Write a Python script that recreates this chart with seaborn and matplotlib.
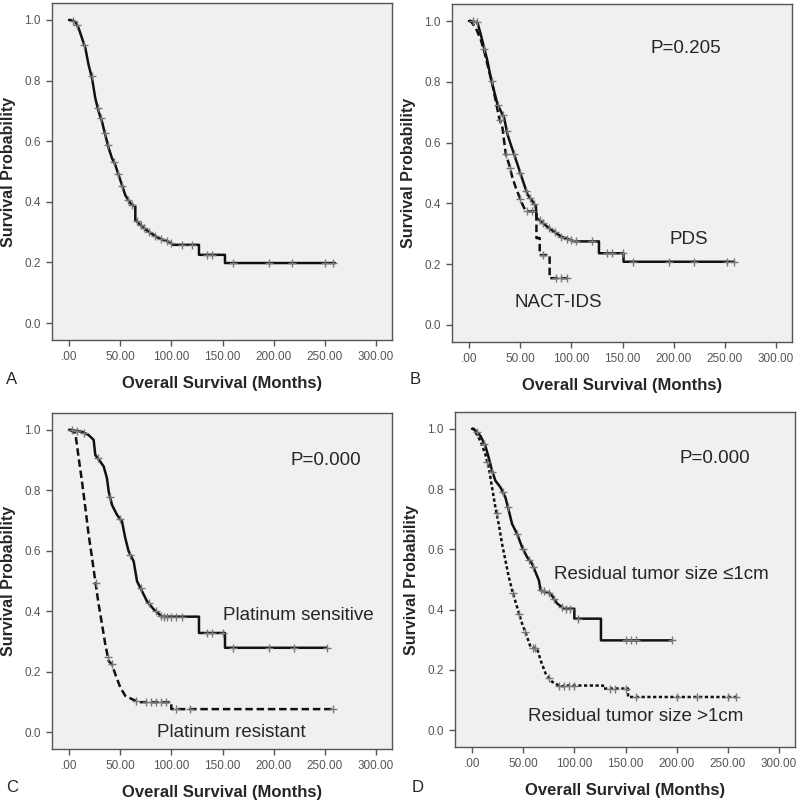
import seaborn as sns
import matplotlib.pyplot as plt
import numpy as np

# Kaplan-Meier curves (months, survival).
# A repeated month marks a vertical drop of the step curve.

# A: all patients
t_all = [0, 1.3, 6.2, 9.5, 12.7, 16, 19.2, 22.5, 25.7, 29, 32.3, 35.5, 38.8, 42, 45.3, 48.5, 51.8,
         55, 60, 64.8, 64.8, 71.4, 77.9, 87.7, 97.5, 102, 127, 127, 152.4, 152.4, 260]
s_all = [1.0, 1.0, 0.994, 0.972, 0.94, 0.907, 0.851, 0.808, 0.742, 0.697, 0.664, 0.62, 0.577,
         0.544, 0.521, 0.488, 0.455, 0.422, 0.395, 0.384, 0.34, 0.318, 0.301, 0.28, 0.268, 0.258,
         0.258, 0.225, 0.225, 0.198, 0.198]
c_all = [4, 8, 15, 22, 28, 31, 35, 38, 44, 48, 52, 58, 62, 66, 70, 73, 78, 84, 90, 96, 100, 110,
         120, 135, 140, 160, 195, 218, 250, 258]

# B: PDS vs NACT-IDS
t_pds = [0, 1.6, 8.2, 11.4, 14.7, 18, 21.2, 24.5, 27.8, 31, 34.3, 37.6, 40.8, 44.1, 47.4, 50.6,
         53.9, 57.2, 62, 65.4, 66, 71.9, 80, 90, 103, 127, 127, 151, 151, 259]
s_pds = [1.0, 1.0, 0.996, 0.957, 0.913, 0.869, 0.814, 0.77, 0.726, 0.704, 0.682, 0.627, 0.594,
         0.561, 0.528, 0.495, 0.462, 0.429, 0.407, 0.39, 0.352, 0.336, 0.314, 0.291, 0.275, 0.275,
         0.236, 0.236, 0.208, 0.208]
c_pds = [4, 8, 15, 22, 28, 33, 37, 44, 50, 56, 60, 64, 69, 72, 78, 84, 90, 96, 100, 105, 120, 135,
         140, 150, 160, 195, 220, 252, 259]
t_nact = [0, 1.6, 6.5, 11.4, 14.7, 18, 22.9, 26.1, 29.4, 32.7, 34.3, 36, 39.2, 42.5, 45.8, 49,
          52.3, 55.6, 65.9, 65.9, 69.1, 69.1, 78.8, 78.8, 96.5]
s_nact = [1.0, 1.0, 0.978, 0.94, 0.902, 0.858, 0.792, 0.737, 0.682, 0.649, 0.605, 0.561, 0.528,
          0.484, 0.451, 0.424, 0.396, 0.374, 0.374, 0.286, 0.286, 0.23, 0.23, 0.154, 0.154]
c_nact = [30, 36, 40, 50, 57, 62, 72, 85, 90, 96]

# C: platinum sensitive vs resistant
t_sens = [0, 1.3, 12.7, 19.2, 24.1, 25.7, 30.6, 33.9, 37.1, 38.8, 42, 46.9, 51.8, 55, 58.3, 63.2,
          66.5, 71.4, 76.2, 82.8, 90.9, 127, 127, 152.4, 152.4, 252]
s_sens = [1.0, 1.0, 0.994, 0.983, 0.967, 0.917, 0.895, 0.879, 0.84, 0.796, 0.752, 0.719, 0.697,
          0.642, 0.598, 0.565, 0.499, 0.466, 0.433, 0.406, 0.382, 0.382, 0.328, 0.328, 0.279, 0.279]
c_sens = [3, 8, 15, 28, 40, 50, 60, 70, 78, 85, 90, 93, 96, 100, 105, 110, 135, 140, 150, 160,
          195, 220, 252]
t_res = [0, 1.3, 6.2, 9.5, 12.7, 16, 19.2, 22.5, 25.7, 29, 32.3, 35.5, 38.8, 42, 45.3, 50.1, 55,
         61.6, 68.1, 100, 100, 260]
s_res = [1.0, 1.0, 0.989, 0.907, 0.829, 0.742, 0.653, 0.577, 0.499, 0.422, 0.356, 0.29, 0.235,
         0.224, 0.191, 0.148, 0.12, 0.109, 0.099, 0.099, 0.076, 0.076]
c_res = [26, 38, 42, 65, 75, 80, 85, 90, 95, 105, 118, 258]

# D: residual tumor size
t_le1 = [0, 1.6, 8.2, 13, 16.3, 19.6, 22.9, 27.8, 32.7, 36, 39.2, 44.1, 49, 53.9, 58.8, 62.1,
         65.4, 67, 76.8, 83.3, 89.9, 100, 100, 126, 126, 195]
s_le1 = [1.0, 1.0, 0.977, 0.944, 0.905, 0.861, 0.828, 0.806, 0.772, 0.728, 0.684, 0.651, 0.607,
         0.574, 0.552, 0.524, 0.497, 0.464, 0.453, 0.42, 0.403, 0.403, 0.37, 0.37, 0.298, 0.298]
c_le1 = [5, 12, 20, 30, 35, 44, 50, 56, 60, 67, 70, 75, 80, 88, 92, 96, 104, 150, 155, 160, 195]
t_gt1 = [0, 1.6, 8.2, 13, 16.3, 19.6, 22.9, 26.1, 29.4, 32.7, 36, 39.2, 44.1, 49, 53.9, 57.2,
         63.7, 67, 71.9, 78.4, 86.6, 92, 128, 128, 152.5, 152.5, 259]
s_gt1 = [1.0, 1.0, 0.96, 0.916, 0.872, 0.806, 0.739, 0.684, 0.618, 0.563, 0.508, 0.464, 0.408,
         0.353, 0.309, 0.276, 0.27, 0.232, 0.188, 0.16, 0.145, 0.148, 0.148, 0.138, 0.138, 0.11,
         0.11]
c_gt1 = [15, 24, 40, 46, 52, 60, 62, 75, 85, 90, 95, 100, 135, 140, 150, 160, 200, 220, 250, 258]

x_ticks = [0, 50, 100, 150, 200, 250, 300]
x_tick_labels = ['.00', '50.00', '100.00', '150.00', '200.00', '250.00', '300.00']
y_ticks = [0.0, 0.2, 0.4, 0.6, 0.8, 1.0]

sns.set_style("white", {"axes.facecolor": "#f0f0f0", "axes.edgecolor": "#555555"})
plt.rcParams['font.family'] = ['Liberation Sans', 'DejaVu Sans']

fig = plt.figure(figsize=(8, 8.02), dpi=100)
W, H = 800, 802


def make_axes(left, top, right, bottom):
    return fig.add_axes([left / W, 1 - bottom / H, (right - left) / W, (bottom - top) / H])


def km(ax, t, s, cens, style):
    sns.lineplot(x=t, y=s, ax=ax, estimator=None, sort=False,
                 color='#111111', linewidth=1.8, linestyle=style)
    cy = np.interp(cens, t, s)
    sns.scatterplot(x=cens, y=cy, ax=ax, marker='+', color='#777777',
                    s=30, linewidth=1.0, zorder=3)


def style_axes(ax, letter, lx, ly):
    ax.set_xlim(-16.6, 315.6)
    ax.set_ylim(-0.056, 1.056)
    ax.set_xticks(x_ticks)
    ax.set_xticklabels(x_tick_labels)
    ax.set_yticks(y_ticks)
    ax.set_yticklabels([f'{v:.1f}' for v in y_ticks])
    ax.tick_params(axis='both', direction='out', length=4, width=1, color='#555555',
                   labelsize=8.5, labelcolor='#555555', pad=4, left=True, bottom=True)
    for sp in ax.spines.values():
        sp.set_linewidth(1.0)
    ax.set_xlabel('Overall Survival (Months)', fontsize=12, fontweight='bold', labelpad=9)
    ax.set_ylabel('Survival Probability', fontsize=11.5, fontweight='bold')
    ax.yaxis.set_label_coords(-0.107, 0.5)
    fig.text(lx / W, 1 - ly / H, letter, fontsize=12, ha='center', va='center')


# A
ax = make_axes(52, 3, 392, 340)
km(ax, t_all, s_all, c_all, '-')
style_axes(ax, 'A', 12, 380)

# B
ax = make_axes(452, 4, 792, 342)
km(ax, t_pds, s_pds, c_pds, '-')
km(ax, t_nact, s_nact, c_nact, (0, (3, 1.5)))
style_axes(ax, 'B', 415, 380)
ax.text(212, 0.91, 'P=0.205', fontsize=13.5, ha='center', va='center')
ax.text(215, 0.28, 'PDS', fontsize=13.5, ha='center', va='center')
ax.text(87, 0.075, 'NACT-IDS', fontsize=13.5, ha='center', va='center')

# C
ax = make_axes(52, 413, 392, 749)
km(ax, t_sens, s_sens, c_sens, '-')
km(ax, t_res, s_res, c_res, (0, (3, 1.5)))
style_axes(ax, 'C', 12, 787)
ax.text(251, 0.90, 'P=0.000', fontsize=13.5, ha='center', va='center')
ax.text(224, 0.385, 'Platinum sensitive', fontsize=13.5, ha='center', va='center')
ax.text(159, 0.0, 'Platinum resistant', fontsize=13.5, ha='center', va='center')

# D
ax = make_axes(455, 412, 795, 747)
km(ax, t_le1, s_le1, c_le1, '-')
km(ax, t_gt1, s_gt1, c_gt1, (0, (1.3, 1.0)))
style_axes(ax, 'D', 418, 788)
ax.text(237, 0.90, 'P=0.000', fontsize=13.5, ha='center', va='center')
ax.text(185, 0.515, 'Residual tumor size ≤1cm', fontsize=13.5, ha='center', va='center')
ax.text(160, 0.045, 'Residual tumor size >1cm', fontsize=13.5, ha='center', va='center')

fig.savefig('out.png', dpi=100)
